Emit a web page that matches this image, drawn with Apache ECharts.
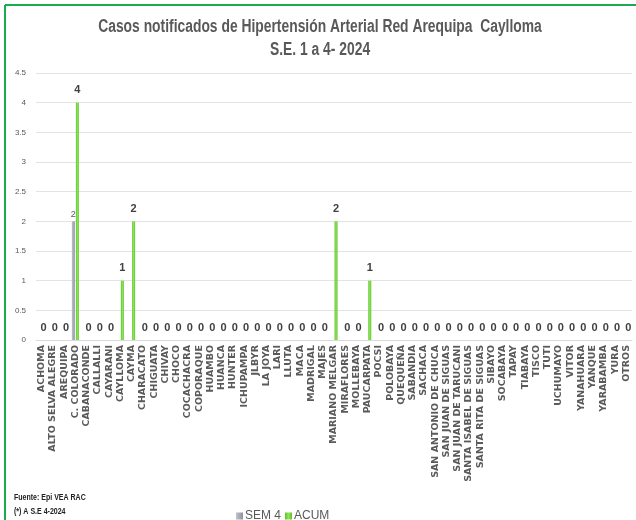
<!DOCTYPE html>
<html><head><meta charset="utf-8">
<script src="https://cdn.jsdelivr.net/npm/echarts@6/dist/echarts.min.js"></script>
<style>html,body{margin:0;padding:0;background:#fff}#c{width:636px;height:520px}</style>
</head><body><div id="c"></div>
<script>
const categories = ["ACHOMA","ALTO SELVA ALEGRE","AREQUIPA","C. COLORADO","CABANACONDE","CALLALLI","CAYARANI","CAYLLOMA","CAYMA","CHARACATO","CHIGUATA","CHIVAY","CHOCO","COCACHACRA","COPORAQUE","HUAMBO","HUANCA","HUNTER","ICHUPAMPA","JLBYR","LA JOYA","LARI","LLUTA","MACA","MADRIGAL","MAJES","MARIANO MELGAR","MIRAFLORES","MOLLEBAYA","PAUCARPATA","POCSI","POLOBAYA","QUEQUEÑA","SABANDIA","SACHACA","SAN ANTONIO DE CHUCA","SAN JUAN DE SIGUAS","SAN JUAN DE TARUCANI","SANTA ISABEL DE SIGUAS","SANTA RITA DE SIGUAS","SIBAYO","SOCABAYA","TAPAY","TIABAYA","TISCO","TUTI","UCHUMAYO","VITOR","YANAHUARA","YANQUE","YARABAMBA","YURA","OTROS"];
const sem4 = [null,null,null,2,null,null,null,null,null,null,null,null,null,null,null,null,null,null,null,null,null,null,null,null,null,null,null,null,null,null,null,null,null,null,null,null,null,null,null,null,null,null,null,null,null,null,null,null,null,null,null,null,null];
const acum = [0,0,0,4,0,0,0,1,2,0,0,0,0,0,0,0,0,0,0,0,0,0,0,0,0,0,2,0,0,1,0,0,0,0,0,0,0,0,0,0,0,0,0,0,0,0,0,0,0,0,0,0,0];
const yTicks = [0,0.5,1,1.5,2,2.5,3,3.5,4,4.5];
const titleLines = ["Casos notificados de Hipertensión Arterial Red Arequipa  Caylloma","S.E. 1 a 4- 2024"];
const notes = ["Fuente: Epi VEA RAC","(*) A S.E 4-2024"];

const chart = echarts.init(document.getElementById('c'));
const tFont = 'bold 18px "Liberation Sans", Arial, sans-serif';
chart.setOption({
  animation:false,
  backgroundColor:'#fff',
  graphic:[
    {type:'line',shape:{x1:5,y1:5,x2:636,y2:5},style:{stroke:'#1aab4f',lineWidth:2}},
    {type:'line',shape:{x1:5,y1:5,x2:5,y2:520},style:{stroke:'#1aab4f',lineWidth:2}},
    {type:'text',x:320,y:27,scaleX:0.77,style:{text:titleLines[0],font:tFont,fill:'#595959',textAlign:'center',textVerticalAlign:'middle'}},
    {type:'text',x:320,y:50,scaleX:0.77,style:{text:titleLines[1],font:tFont,fill:'#595959',textAlign:'center',textVerticalAlign:'middle'}},
    {type:'text',x:14,y:498,scaleX:0.78,style:{text:notes[0],font:'bold 9px "Liberation Sans", Arial',fill:'#222',textVerticalAlign:'middle'}},
    {type:'text',x:14,y:512,scaleX:0.78,style:{text:notes[1],font:'bold 9px "Liberation Sans", Arial',fill:'#222',textVerticalAlign:'middle'}}
  ],
  legend:{data:['SEM 4','ACUM'],left:231,top:505,itemWidth:7,itemHeight:7,itemGap:4,icon:'rect',textStyle:{fontSize:12,color:'#595959',fontFamily:'Liberation Sans',padding:[0,0,0,-3]}},
  grid:{left:36,right:4,top:73,bottom:180,containLabel:false},
  xAxis:{type:'category',data:categories,axisTick:{show:false},axisLine:{lineStyle:{color:'#d9d9d9'}},
    axisLabel:{rotate:90,interval:0,fontSize:9.5,fontWeight:'bold',color:'#5a5a5a',fontFamily:'DejaVu Sans',margin:5}},
  yAxis:{type:'value',min:0,max:4.5,interval:0.5,axisLine:{show:false},axisTick:{show:false},
    splitLine:{lineStyle:{color:'#e3e3e3'}},
    axisLabel:{fontSize:8,color:'#595959',margin:10,formatter:v=>yTicks.includes(v)?String(v):''}},
  series:[
    {name:'SEM 4',type:'bar',data:sem4,barWidth:3,barGap:'35%',
     itemStyle:{color:new echarts.graphic.LinearGradient(0,0,1,0,[{offset:0,color:'#c0c4cc'},{offset:1,color:'#8d929b'}])},
     label:{show:true,position:'top',fontSize:9,color:'#595959',distance:2}},
    {name:'ACUM',type:'bar',data:acum,barWidth:3,
     itemStyle:{color:new echarts.graphic.LinearGradient(0,0,1,0,[{offset:0,color:'#5cc42a'},{offset:0.5,color:'#8fe45a'},{offset:1,color:'#5cc42a'}])},
     label:{show:true,position:'top',fontSize:11,fontWeight:'bold',color:'#404040',distance:7}}
  ]
});
</script></body></html>
